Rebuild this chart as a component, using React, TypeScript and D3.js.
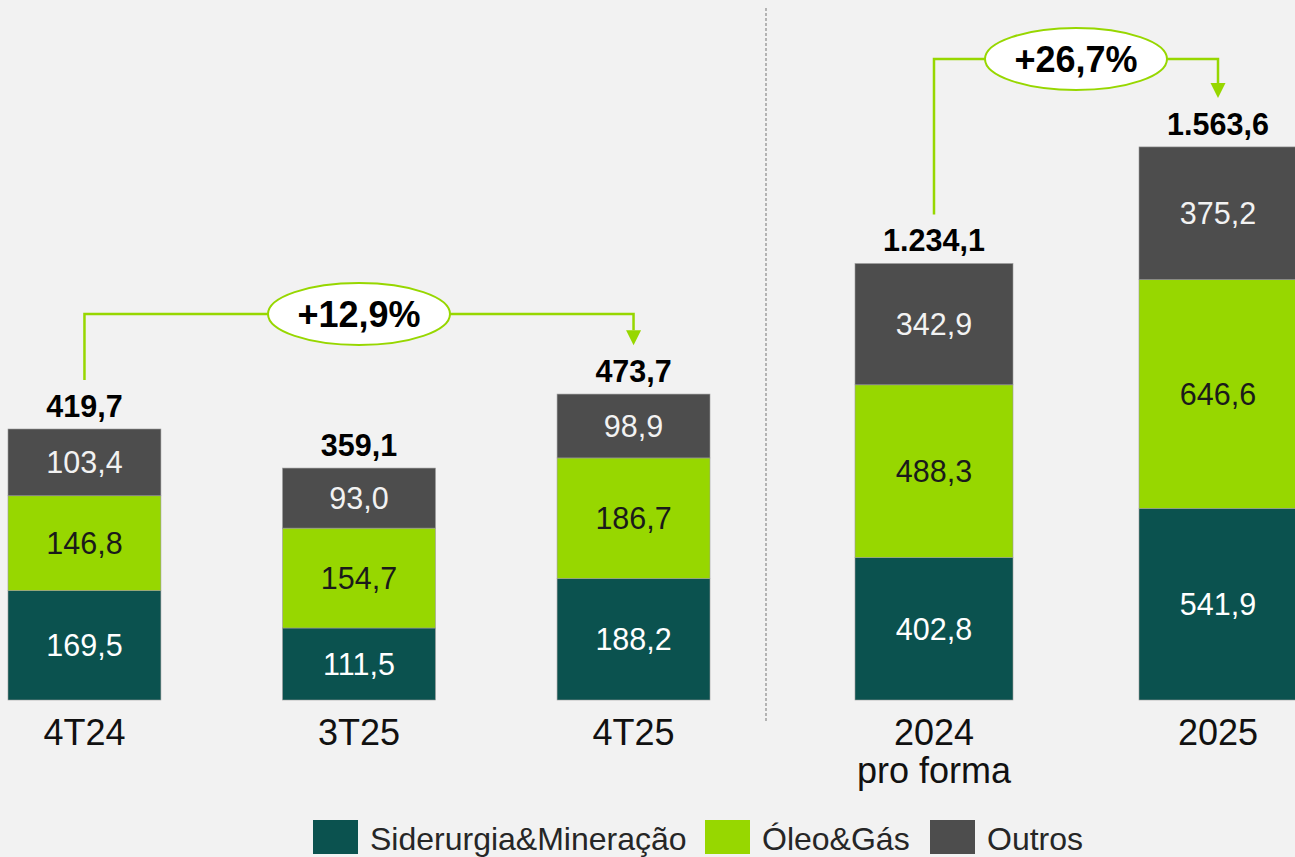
import React from "react";
import * as d3 from "d3";

// ---- Data ----
const leftCategories = ["4T24", "3T25", "4T25"];
const leftSiderurgia = [169.5, 111.5, 188.2];
const leftOleo = [146.8, 154.7, 186.7];
const leftOutros = [103.4, 93.0, 98.9];
const leftTotals = [419.7, 359.1, 473.7];

const rightCategories = [["2024", "pro forma"], ["2025"]];
const rightSiderurgia = [402.8, 541.9];
const rightOleo = [488.3, 646.6];
const rightOutros = [342.9, 375.2];
const rightTotals = [1234.1, 1563.6];

const growthLabels = ["+12,9%", "+26,7%"];
const seriesNames = ["Siderurgia&Mineração", "Óleo&Gás", "Outros"];

// ---- Styles ----
const W = 1295;
const H = 857;
const BG = "#f2f2f2";
const COLORS = ["#0b524f", "#97d700", "#4d4d4d"];
const LABEL_COLORS = ["#ffffff", "#1a1a1a", "#f2f2f2"];
const ACCENT = "#97d700";
const FONT = "'Liberation Sans', Arial, Helvetica, sans-serif";

const locale = d3.formatLocale({ decimal: ",", thousands: ".", grouping: [3], currency: ["R$", ""] });
const fmt = locale.format(",.1f");

const BASE = 700;

type Panel = {
  cats: string[][];
  series: number[][];
  totals: number[];
  x: d3.ScaleBand<string>;
  y: d3.ScaleLinear<number, number>;
};

const leftPanel: Panel = {
  cats: leftCategories.map((c) => [c]),
  series: [leftSiderurgia, leftOleo, leftOutros],
  totals: leftTotals,
  x: d3.scaleBand<string>().domain(leftCategories).range([8, 710]).paddingInner(0.443).paddingOuter(0),
  y: d3.scaleLinear().domain([0, 500]).range([BASE, BASE - 500 * 0.6457]),
};

const rightKeys = rightCategories.map((c) => c.join(" "));
const rightPanel: Panel = {
  cats: rightCategories,
  series: [rightSiderurgia, rightOleo, rightOutros],
  totals: rightTotals,
  x: d3.scaleBand<string>().domain(rightKeys).range([855, 1297]).paddingInner(0.4437).paddingOuter(0),
  y: d3.scaleLinear().domain([0, 1600]).range([BASE, BASE - 1600 * 0.3537]),
};

function Bars({ p }: { p: Panel }) {
  const keys = p.x.domain();
  const bw = p.x.bandwidth();
  return (
    <g>
      {keys.map((k, i) => {
        const x0 = p.x(k)!;
        const cx = x0 + bw / 2;
        let cum = 0;
        const segs = p.series.map((s, si) => {
          const v0 = cum;
          cum += s[i];
          const yTop = p.y(cum);
          const yBot = p.y(v0);
          return (
            <g key={si}>
              <rect x={x0} y={yTop} width={bw} height={yBot - yTop} fill={COLORS[si]} stroke="#9a9a9a" strokeWidth={0.6} />
              <text
                x={cx}
                y={(yTop + yBot) / 2}
                textAnchor="middle"
                dominantBaseline="central"
                fontSize={30.5}
                fill={LABEL_COLORS[si]}
              >
                {fmt(s[i])}
              </text>
            </g>
          );
        });
        const topY = p.y(p.totals[i]);
        return (
          <g key={k}>
            {segs}
            <text x={cx} y={topY - 12} textAnchor="middle" fontSize={30.5} fontWeight="bold" fill="#000">
              {fmt(p.totals[i])}
            </text>
            {p.cats[i].map((line, li) => (
              <text key={li} x={cx} y={745 + li * 38} textAnchor="middle" fontSize={36} fill="#111">
                {line}
              </text>
            ))}
          </g>
        );
      })}
    </g>
  );
}

function Connector({ p, fromIdx, toIdx, lineY, label }: { p: Panel; fromIdx: number; toIdx: number; lineY: number; label: string }) {
  const keys = p.x.domain();
  const bw = p.x.bandwidth();
  const x1 = p.x(keys[fromIdx])! + bw / 2;
  const x2 = p.x(keys[toIdx])! + bw / 2;
  const startY = p.y(p.totals[fromIdx]) - 49;
  const tipY = p.y(p.totals[toIdx]) - 49;
  const mid = (x1 + x2) / 2;
  const ah = 15;
  return (
    <g>
      <path
        d={`M${x1},${startY} V${lineY} H${x2} V${tipY - ah}`}
        fill="none"
        stroke={ACCENT}
        strokeWidth={2.5}
      />
      <path d={`M${x2 - 7.5},${tipY - ah} L${x2 + 7.5},${tipY - ah} L${x2},${tipY} Z`} fill={ACCENT} />
      <ellipse cx={mid} cy={lineY} rx={91} ry={31} fill="#ffffff" stroke={ACCENT} strokeWidth={2} />
      <text x={mid} y={lineY} textAnchor="middle" dominantBaseline="central" fontSize={36} fontWeight="bold" fill="#000">
        {label}
      </text>
    </g>
  );
}

const legendX = [313, 705, 930];

export default function App() {
  return (
    <svg
      width={W}
      height={H}
      viewBox={`0 0 ${W} ${H}`}
      style={{ position: "absolute", left: 0, top: 0, display: "block" }}
      fontFamily={FONT}
    >
      <rect x={0} y={0} width={W} height={H} fill={BG} />
      <line x1={766} x2={766} y1={8} y2={722} stroke="#8a8a8a" strokeWidth={1.2} strokeDasharray="3,2" />
      <Bars p={leftPanel} />
      <Bars p={rightPanel} />
      <Connector p={leftPanel} fromIdx={0} toIdx={2} lineY={314} label={growthLabels[0]} />
      <Connector p={rightPanel} fromIdx={0} toIdx={1} lineY={59} label={growthLabels[1]} />
      <g>
        {seriesNames.map((n, i) => (
          <g key={n}>
            <rect x={legendX[i]} y={820} width={45} height={34} fill={COLORS[i]} />
            <text x={legendX[i] + 57} y={850} fontSize={32} fill="#262626">
              {n}
            </text>
          </g>
        ))}
      </g>
    </svg>
  );
}
